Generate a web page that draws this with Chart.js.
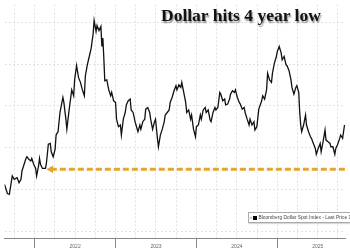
<!DOCTYPE html>
<html>
<head>
<meta charset="utf-8">
<script src="https://cdn.jsdelivr.net/npm/chart.js@4"></script>
<style>
  html, body { margin:0; padding:0; background:#fff; }
  #wrap { position:relative; width:350px; height:250px; overflow:hidden; }
  #title { position:absolute; left:161px; top:5px; font-family:"Liberation Serif","DejaVu Serif",serif; font-weight:bold; font-size:17.5px; color:#111; text-shadow:1px 1.5px 1.5px rgba(0,0,0,0.45); white-space:nowrap; }
  #legend { position:absolute; left:248px; top:212px; width:110px; height:9px; border:1px solid #aaa; background:#fff; font-family:"Liberation Sans",Arial,sans-serif; font-size:4.9px; color:#444; white-space:nowrap; line-height:9px; box-shadow:1px 1px 1px rgba(0,0,0,0.15); }
  #legend .m { display:inline-block; width:4px; height:4px; background:#000; vertical-align:middle; margin:0 1.5px 0 1px; }
</style>
</head>
<body>
<div id="wrap">
<canvas id="c" width="350" height="250"></canvas>
<div id="title">Dollar hits 4 year low</div>
<div id="legend">&nbsp;‹<span class="m"></span>Bloomberg Dollar Spot Index - Last Price 1</div>
</div>
<script>
// decimal-year dates
const dates = [2021.627,2021.663,2021.687,2021.723,2021.747,2021.783,2021.807,2021.831,2021.843,2021.892,2021.904,2021.928,2021.952,2021.964,2021.988,2022.012,2022.024,2022.048,2022.060,2022.072,2022.096,2022.133,2022.145,2022.169,2022.193,2022.205,2022.229,2022.253,2022.265,2022.289,2022.313,2022.325,2022.349,2022.361,2022.386,2022.398,2022.422,2022.446,2022.458,2022.482,2022.494,2022.518,2022.542,2022.566,2022.590,2022.614,2022.627,2022.651,2022.675,2022.699,2022.711,2022.723,2022.735,2022.759,2022.771,2022.795,2022.819,2022.831,2022.843,2022.855,2022.867,2022.892,2022.916,2022.940,2022.952,2022.976,2023.000,2023.012,2023.036,2023.060,2023.072,2023.096,2023.120,2023.133,2023.157,2023.181,2023.193,2023.217,2023.241,2023.253,2023.277,2023.301,2023.313,2023.337,2023.361,2023.373,2023.398,2023.422,2023.434,2023.458,2023.482,2023.494,2023.518,2023.530,2023.554,2023.578,2023.602,2023.614,2023.639,2023.663,2023.675,2023.699,2023.723,2023.747,2023.759,2023.783,2023.807,2023.819,2023.843,2023.867,2023.880,2023.904,2023.928,2023.940,2023.964,2023.988,2024.000,2024.024,2024.048,2024.060,2024.084,2024.108,2024.120,2024.145,2024.169,2024.181,2024.205,2024.229,2024.241,2024.265,2024.289,2024.301,2024.325,2024.349,2024.361,2024.386,2024.410,2024.422,2024.446,2024.470,2024.482,2024.506,2024.530,2024.542,2024.566,2024.590,2024.602,2024.627,2024.651,2024.663,2024.687,2024.711,2024.723,2024.747,2024.771,2024.807,2024.819,2024.843,2024.867,2024.880,2024.904,2024.928,2024.940,2024.964,2024.988,2025.000,2025.024,2025.048,2025.060,2025.084,2025.108,2025.120,2025.145,2025.169,2025.181,2025.205,2025.229,2025.241,2025.265,2025.277,2025.289,2025.301,2025.325,2025.349,2025.361,2025.386,2025.410,2025.422,2025.446,2025.470,2025.482,2025.506,2025.530,2025.542,2025.566,2025.590,2025.602,2025.627,2025.651,2025.663,2025.687,2025.711,2025.723,2025.747,2025.771,2025.783,2025.807,2025.831];
// Bloomberg Dollar Spot Index - last price
const prices = [1156,1145,1144,1166,1162,1164,1158,1162,1172,1187,1189,1186,1184,1187,1180,1175,1166,1178,1187,1180,1175,1175,1181,1204,1205,1195,1189,1198,1215,1219,1242,1248,1260,1254,1234,1222,1242,1260,1269,1262,1281,1298,1284,1278,1269,1262,1286,1299,1309,1319,1328,1336,1352,1339,1346,1340,1345,1321,1331,1307,1280,1281,1269,1262,1266,1256,1254,1234,1225,1227,1215,1234,1242,1251,1256,1258,1245,1242,1231,1227,1219,1227,1222,1231,1234,1246,1248,1242,1234,1222,1231,1234,1211,1201,1215,1222,1231,1239,1242,1245,1254,1260,1268,1274,1269,1275,1272,1278,1266,1254,1242,1245,1234,1239,1222,1213,1225,1227,1239,1234,1245,1248,1242,1245,1233,1231,1242,1248,1245,1248,1266,1264,1256,1258,1251,1252,1258,1264,1268,1266,1269,1260,1254,1252,1246,1248,1242,1234,1227,1234,1227,1231,1221,1225,1246,1256,1262,1258,1269,1289,1281,1278,1289,1301,1309,1315,1321,1313,1305,1309,1299,1298,1292,1281,1272,1264,1272,1274,1266,1242,1227,1219,1227,1239,1227,1219,1213,1211,1205,1199,1192,1199,1205,1195,1207,1221,1209,1207,1205,1201,1201,1192,1199,1204,1211,1215,1211,1227];
// 4-year-low reference level (arrow)
const refDates = [2022.200, 2025.860];
const refLevel = [1174, 1174];
const yGrid = [1100,1150,1200,1250,1300,1350];
const xGrid = [2021.75,2022,2022.25,2022.5,2022.75,2023,2023.25,2023.5,2023.75,2024,2024.25,2024.5,2024.75,2025,2025.25,2025.5,2025.75];
const yearLabels = {2022.5:'2022',2023.5:'2023',2024.5:'2024',2025.5:'2025'};

const mainData = dates.map((d,i)=>({x:d,y:prices[i]}));
const refData = refDates.map((d,i)=>({x:d,y:refLevel[i]}));

new Chart(document.getElementById('c'), {
  type:'line',
  data:{datasets:[
    {data:mainData, borderColor:'#111', borderWidth:1.3, pointRadius:0, tension:0, order:1},
    {data:refData, borderColor:'#E2A72E', backgroundColor:'#E2A72E', borderWidth:3, borderDash:[6,3],
     pointStyle:'triangle', rotation:270, pointRadius:[4.5,0], pointBorderWidth:0, order:2}
  ]},
  options:{
    responsive:false, animation:false, devicePixelRatio:1,
    layout:{padding:0},
    plugins:{legend:{display:false}, tooltip:{enabled:false}},
    scales:{
      x:{type:'linear', min:2021.627, max:2025.843,
        afterBuildTicks:s=>{s.ticks = xGrid.map(v=>({value:v}));},
        afterFit:s=>{s.height = 12;},
        grid:{color:'#e2e2e2', lineWidth:1, tickLength:10, drawTicks:true,
          tickColor:c=> (c.tick && Number.isInteger(c.tick.value)) ? '#888' : 'rgba(0,0,0,0)'},
        border:{display:true, color:'#888', width:1, dash:[2,2]},
        ticks:{autoSkip:false, maxRotation:0, padding:-4, color:'#666',
          font:{size:5, family:'Liberation Sans'},
          callback:v=> yearLabels[v] || ''}
      },
      y:{min:1091.8, max:1371.2,
        afterBuildTicks:s=>{s.ticks = yGrid.map(v=>({value:v}));},
        afterFit:s=>{s.width = 0;},
        ticks:{display:false},
        grid:{color:'#e2e2e2', drawTicks:false},
        border:{display:false, dash:[2,2]}
      }
    }
  }
});
</script>
</body>
</html>
